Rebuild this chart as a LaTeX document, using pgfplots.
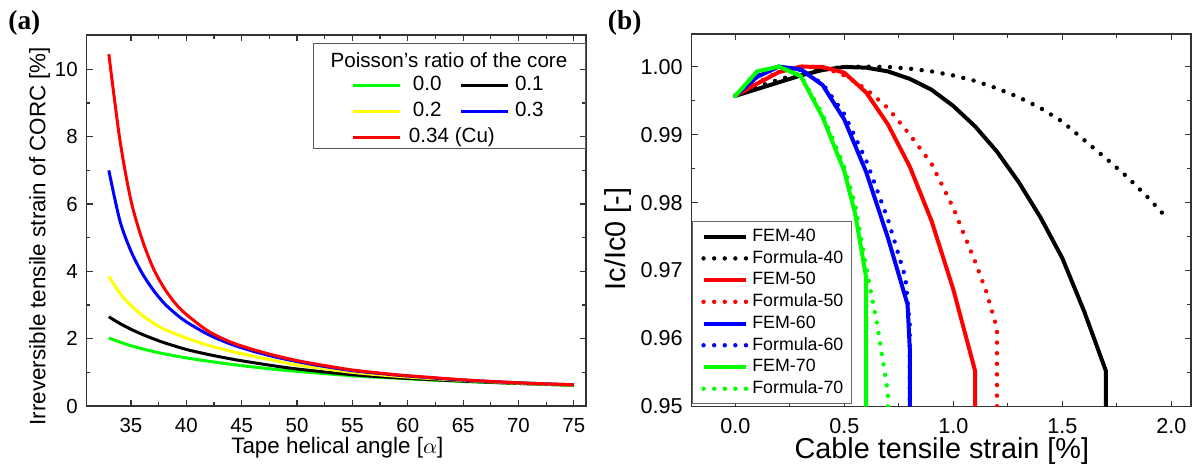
\documentclass[border=0pt]{standalone}
\usepackage{fontspec}
\setmainfont{Liberation Sans}
\newfontfamily\serifbf{Liberation Serif}
\usepackage{pgfplots}
\pgfplotsset{compat=1.18}
\definecolor{cgreen}{RGB}{0,255,0}
\definecolor{cyellow}{RGB}{255,255,0}
\definecolor{cblue}{RGB}{0,0,255}
\definecolor{cred}{RGB}{255,0,0}

\begin{document}
\begin{tikzpicture}
\useasboundingbox (0,0) rectangle (596pt,-233pt);
\pgfplotsset{
  panel/.style={scale only axis, width=249.65pt, tick align=inside,
    major tick length=3pt, minor tick length=1.8pt,
    axis line style={line width=0.6pt, black!80},
    every tick/.style={line width=0.6pt, black!80},
    /pgf/number format/assume math mode=true, scaled ticks=false},
  dotline/.style={line width=2.2pt, line cap=round, dash pattern=on 0pt off 5.3pt},
}
\node[anchor=west, inner sep=0pt] at (4pt,-11.5pt) {\serifbf\bfseries\fontsize{13.7}{15}\selectfont (a)};
\node[anchor=west, inner sep=0pt] at (303.75pt,-11.5pt) {\serifbf\bfseries\fontsize{13.7}{15}\selectfont (b)};

% (a) irreversible strain vs helical angle
\begin{axis}[panel, at={(43.35pt,-203pt)}, anchor=south west, height=185.5pt,
  xmin=31, xmax=76.1, ymin=0, ymax=11.02,
  xtick={35,40,...,75}, ytick={0,2,...,10}, minor x tick num=1, minor y tick num=1,
  ticklabel style={font=\fontsize{10.2}{12}\selectfont},
  xticklabel shift=2.5pt, yticklabel shift=1pt,
  xlabel={Tape helical angle [$\alpha$]},
  ylabel={Irreversible tensile strain of CORC [\%]},
  label style={font=\fontsize{11.2}{13}\selectfont},
  xlabel style={at={(axis description cs:0.502,-0.113)}, anchor=center},
  ylabel style={at={(axis description cs:-0.0945,0.458)}, anchor=center},
  legend columns=2, legend cell align=left,
  legend style={draw=none, fill=none, at={(0.5313,0.891)}, anchor=north west,
    inner sep=0pt, outer sep=0pt, font=\fontsize{10.3}{12}\selectfont,
    nodes={inner sep=0pt, text height=7.4pt, text depth=2.2pt}, row sep=3.4pt,
    /tikz/every odd column/.append style={column sep=3pt},
    /tikz/every even column/.append style={column sep=8.7pt}},
  legend image code/.code={\draw[#1] (0pt,0pt) -- (23.5pt,0pt);},
  every axis plot/.append style={smooth},
]
\addplot[cgreen, line width=1.5pt] coordinates {
 (33,2.02)(34,1.90)(35,1.79)(36,1.70)(37,1.62)(38,1.55)(40,1.43)(42,1.33)
 (44,1.24)(46,1.16)(48,1.09)(50,1.03)(55,0.90)(60,0.81)(65,0.73)(70,0.67)(75,0.61)};
\addlegendentry{\hspace{2.5pt}0.0}
\addplot[black, line width=1.5pt] coordinates {
 (33,2.65)(34,2.45)(35,2.28)(36,2.13)(37,2.00)(38,1.88)(40,1.68)(42,1.53)
 (44,1.40)(46,1.29)(48,1.19)(50,1.10)(55,0.93)(60,0.82)(65,0.74)(70,0.67)(75,0.62)};
\addlegendentry{0.1}
\addplot[cyellow, line width=1.5pt] coordinates {
 (33,3.85)(34,3.35)(35,2.98)(36,2.70)(37,2.47)(38,2.28)(40,2.02)(42,1.80)
 (44,1.63)(46,1.48)(48,1.35)(50,1.22)(55,1.00)(60,0.86)(65,0.76)(70,0.68)(75,0.62)};
\addlegendentry{\hspace{2.5pt}0.2}
\addplot[cblue, line width=1.5pt] coordinates {
 (33,7.00)(34,5.50)(35,4.60)(36,3.95)(37,3.45)(38,3.05)(39,2.75)(40,2.50)
 (42,2.12)(44,1.84)(46,1.63)(48,1.46)(50,1.32)(52,1.20)(55,1.05)(58,0.95)
 (60,0.89)(65,0.77)(70,0.69)(75,0.63)};
\addlegendentry{0.3}
\addplot[cred, line width=1.5pt] coordinates {
 (33,10.45)(34,7.90)(35,6.10)(36,4.95)(37,4.10)(38,3.50)(39,3.05)(40,2.72)
 (42,2.22)(44,1.90)(46,1.68)(48,1.50)(50,1.35)(52,1.23)(55,1.07)(58,0.96)
 (60,0.90)(65,0.78)(70,0.69)(75,0.63)};
\addlegendentry{\makebox[0pt][l]{0.34 (Cu)}}
\draw[line width=0.5pt, draw=black!65] (rel axis cs:0.455,0.695) rectangle (rel axis cs:0.998,0.978);
\node[font=\fontsize{10.3}{12}\selectfont] at (rel axis cs:0.7256,0.933) {Poisson's ratio of the core};
\end{axis}

% (b) Ic/Ic0 vs cable strain
\begin{axis}[panel, at={(345.85pt,-203.25pt)}, anchor=south west, height=186.25pt,
  xmin=-0.2, xmax=2.09, ymin=0.95, ymax=1.0048,
  xtick={0,0.5,1,1.5,2}, ytick={0.95,0.96,0.97,0.98,0.99,1.00},
  minor x tick num=1, minor y tick num=1,
  ticklabel style={font=\fontsize{10.8}{12}\selectfont},
  xticklabel style={/pgf/number format/.cd, fixed, fixed zerofill, precision=1},
  yticklabel style={/pgf/number format/.cd, fixed, fixed zerofill, precision=2},
  xticklabel shift=2.5pt, yticklabel shift=1pt,
  xlabel={Cable tensile strain [\%]}, ylabel={Ic/Ic0 [-]},
  label style={font=\fontsize{14.4}{16}\selectfont},
  xlabel style={at={(axis description cs:0.501,-0.1195)}, anchor=center},
  ylabel style={at={(axis description cs:-0.1476,0.45)}, anchor=center},
  legend cell align=left,
  legend style={at={(0.0015,0.0067)}, anchor=south west, draw=black!60, line width=0.5pt,
    fill=white, inner xsep=4.2pt, inner ysep=3.4pt, font=\fontsize{8.9}{10}\selectfont,
    nodes={inner sep=0pt, text height=6.4pt, text depth=1.6pt}, row sep=2.86pt,
    /tikz/every odd column/.append style={column sep=2pt}},
  legend image code/.code={\draw[#1] (0pt,0pt) -- (21.3pt,0pt);},
]
\addplot[black, line width=2pt] coordinates {
 (0,0.9957)(0.1,0.9967)(0.2,0.9977)(0.3,0.9987)(0.4,0.9995)(0.5,0.99995)
 (0.6,0.99985)(0.7,0.9993)(0.8,0.9982)(0.9,0.9966)(1.0,0.9942)(1.1,0.9912)
 (1.2,0.9875)(1.3,0.9830)(1.4,0.9778)(1.5,0.9718)(1.6,0.9640)(1.7,0.9552)(1.7,0.95)};
\addlegendentry{FEM-40}
\addplot[black, dotline] coordinates {
 (0,0.9957)(0.1,0.9970)(0.2,0.9981)(0.3,0.9990)(0.4,0.9996)(0.5,0.99995)
 (0.6,1.0)(0.7,0.99995)(0.8,0.9997)(0.9,0.9993)(1.0,0.9987)(1.1,0.9979)
 (1.2,0.9968)(1.3,0.9955)(1.4,0.9939)(1.5,0.9919)(1.6,0.9892)(1.7,0.9865)
 (1.8,0.9837)(1.9,0.9805)(1.98,0.9777)};
\addlegendentry{Formula-40}
\addplot[cred, line width=2pt] coordinates {
 (0,0.9957)(0.1,0.9975)(0.2,0.9992)(0.3,1.0)(0.4,0.99995)(0.5,0.9991)
 (0.6,0.9962)(0.7,0.9915)(0.8,0.9853)(0.9,0.9773)(1.0,0.9672)(1.1,0.9552)(1.1,0.95)};
\addlegendentry{FEM-50}
\addplot[cred, dotline] coordinates {
 (0,0.9957)(0.1,0.9976)(0.2,0.9993)(0.3,1.0)(0.4,0.99995)(0.5,0.9987)
 (0.6,0.9967)(0.7,0.9939)(0.8,0.9900)(0.9,0.9857)(1.0,0.9792)(1.1,0.9713)
 (1.15,0.9670)(1.2,0.9615)(1.2,0.95)};
\addlegendentry{Formula-50}
\addplot[cblue, line width=2pt] coordinates {
 (0,0.9957)(0.1,0.9985)(0.2,1.0)(0.3,0.9996)(0.4,0.9973)(0.5,0.9922)
 (0.6,0.9845)(0.7,0.9748)(0.79,0.9650)(0.8,0.9586)(0.8,0.95)};
\addlegendentry{FEM-60}
\addplot[cblue, dotline] coordinates {
 (0,0.9957)(0.1,0.9986)(0.2,1.0)(0.3,0.9995)(0.4,0.9975)(0.5,0.9930)
 (0.6,0.9862)(0.7,0.9775)(0.78,0.9690)(0.8,0.9620)(0.8,0.95)};
\addlegendentry{Formula-60}
\addplot[cgreen, line width=2pt] coordinates {
 (0,0.9957)(0.1,0.9993)(0.2,1.0)(0.3,0.9986)(0.4,0.9926)(0.5,0.9846)
 (0.55,0.9783)(0.6,0.9690)(0.6,0.95)};
\addlegendentry{FEM-70}
\addplot[cgreen, dotline] coordinates {
 (0,0.9957)(0.1,0.9993)(0.2,1.0)(0.3,0.9987)(0.4,0.9930)(0.5,0.9852)
 (0.55,0.9797)(0.6,0.9705)(0.65,0.9622)(0.7,0.9520)(0.7,0.95)};
\addlegendentry{Formula-70}
\end{axis}
\end{tikzpicture}
\end{document}
